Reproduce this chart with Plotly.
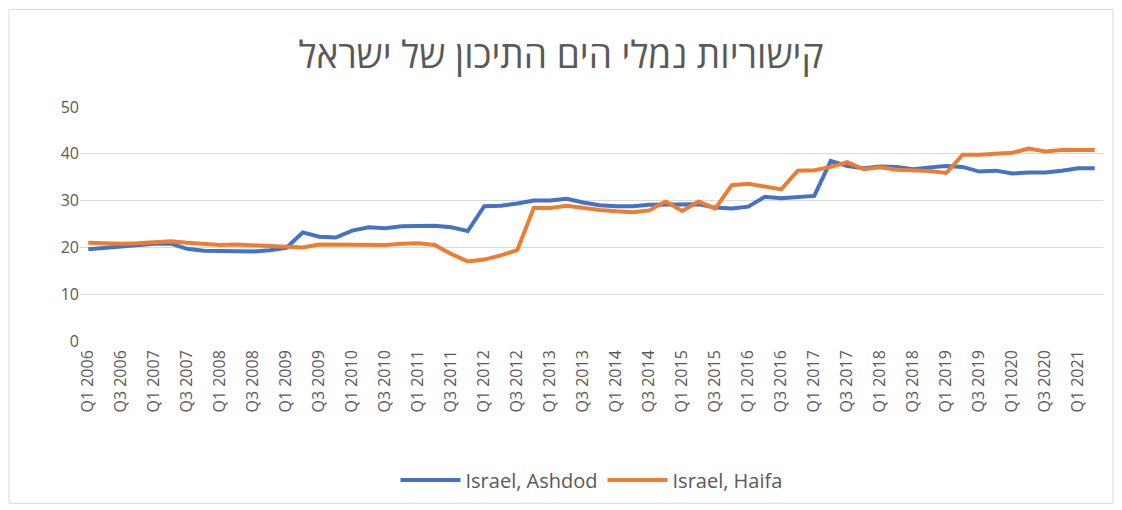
import plotly.graph_objects as go

years = list(range(2006, 2022))
quarters = []
for y in years:
    for q in (1, 2, 3, 4):
        quarters.append(f"Q{q} {y}")
quarters = quarters[:62]  # Q1 2006 .. Q2 2021

ashdod = [19.6, 19.9, 20.2, 20.3, 20.8, 20.8, 19.7, 19.3, 19.2, 19.1,
          19.1, 19.4, 19.9, 23.2, 22.3, 22.1, 23.6, 24.3, 24.1, 24.5,
          24.6, 24.6, 24.3, 23.5, 28.8, 28.9, 29.4, 30.0, 30.0, 30.4,
          29.6, 29.0, 28.8, 28.8, 29.1, 29.2, 29.2, 29.2, 28.5, 28.3,
          28.7, 30.8, 30.5, 30.8, 31.0, 38.5, 37.4, 36.9, 37.3, 37.2,
          36.7, 37.1, 37.4, 37.2, 36.2, 36.4, 35.8, 36.0, 36.0, 36.4,
          36.9, 36.9]
haifa = [21.0, 20.8, 20.8, 20.9, 21.2, 21.3, 21.0, 20.7, 20.5, 20.6,
         20.5, 20.3, 20.2, 20.0, 20.6, 20.6, 20.5, 20.7, 20.5, 20.8,
         20.9, 20.5, 18.6, 17.0, 17.4, 18.3, 19.4, 28.4, 28.4, 28.9,
         28.4, 28.0, 27.7, 27.5, 27.9, 29.8, 27.8, 29.8, 28.3, 33.3,
         33.6, 33.0, 32.4, 36.4, 36.5, 37.2, 38.2, 36.7, 37.1, 36.6,
         36.5, 36.3, 35.9, 39.8, 39.8, 40.0, 40.2, 41.1, 40.5, 40.8,
         40.9, 40.8]
tick_labels = quarters[::2]

title_text = "קישוריות נמלי הים התיכון של ישראל"
grey = "#595959"
font_family = "Open Sans, DejaVu Sans, sans-serif"

fig = go.Figure()
fig.add_trace(go.Scatter(x=quarters, y=ashdod, mode="lines", name="Israel, Ashdod",
                         line=dict(color="#4472C4", width=4)))
fig.add_trace(go.Scatter(x=quarters, y=haifa, mode="lines", name="Israel, Haifa",
                         line=dict(color="#ED7D31", width=4)))

L, R, T, B = 80, 19, 107, 168
W, H = 1122, 510
pw, ph = W - L - R, H - T - B

fig.update_layout(
    width=W, height=H,
    margin=dict(l=L, r=R, t=T, b=B),
    plot_bgcolor="white", paper_bgcolor="white",
    font=dict(family=font_family, color=grey, size=16),
    title=dict(text=title_text, x=0.5, xanchor="center", y=1 - 55 / H, yanchor="middle",
               font=dict(size=37, color=grey, family=font_family)),
    xaxis=dict(type="category", tickmode="array", tickvals=tick_labels, ticktext=tick_labels,
               tickangle=-90, showgrid=False, zeroline=False, showline=False,
               ticks="", ticklabelstandoff=5, tickfont=dict(size=16, color=grey),
               range=[-0.5, len(quarters) - 0.5]),
    yaxis=dict(range=[0, 50], dtick=10, showgrid=True, gridcolor="#D9D9D9", gridwidth=1.3,
               zeroline=False, showline=False, ticks="", tickfont=dict(size=16, color=grey)),
    legend=dict(orientation="h", x=0.5, xanchor="center", y=-(480 - (T + ph)) / ph,
                yanchor="middle", font=dict(size=20, color=grey), itemwidth=60,
                traceorder="normal"),
    showlegend=True,
)

fig.add_shape(type="rect", xref="paper", yref="paper",
              x0=(9 - L) / pw, x1=(1113 - L) / pw,
              y0=(H - B - 505) / ph, y1=(H - B - 9) / ph,
              line=dict(color="#D9D9D9", width=1), layer="below")

fig.write_html("out.html", config={"displayModeBar": False},
               post_script="document.body.style.margin='0';")
